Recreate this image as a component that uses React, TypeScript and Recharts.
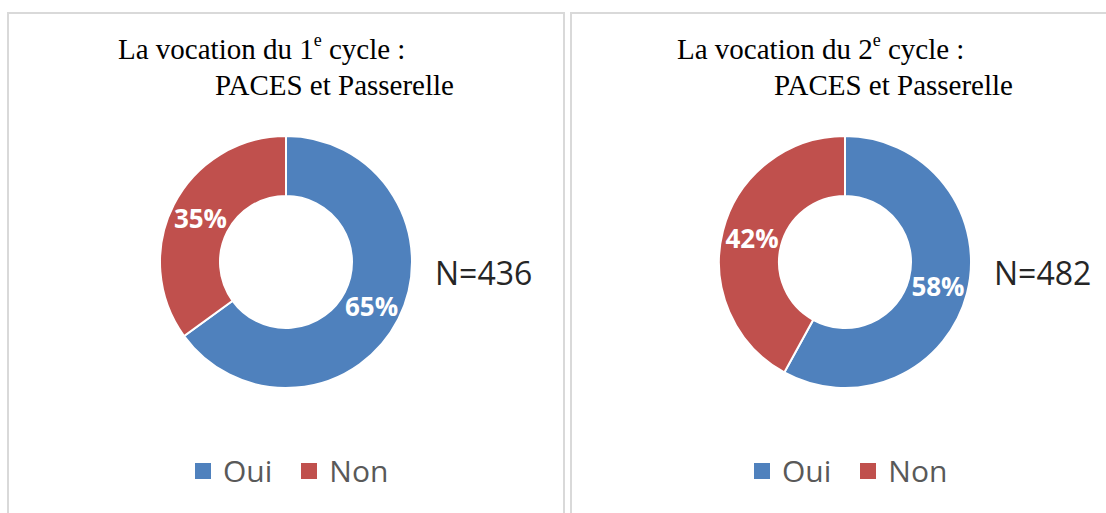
import { PieChart, Pie, Cell, Legend } from "recharts";

const categories = ["Oui", "Non"];
const cycle1Values = [65, 35];
const cycle2Values = [58, 42];
const panelTitles = ["1", "2"];
const sampleSizes = ["N=436", "N=482"];

const COLORS = ["#4f81bd", "#c0504d"];
const RADIAN = Math.PI / 180;

function toData(values: number[]) {
  return categories.map((name, i) => ({ name, value: values[i] }));
}

function renderLabel(props: any) {
  const { cx, cy, midAngle, innerRadius, outerRadius, value } = props;
  const r = (innerRadius + outerRadius) / 2;
  const x = cx + r * Math.cos(-midAngle * RADIAN);
  const y = cy + r * Math.sin(-midAngle * RADIAN);
  return (
    <text
      x={x}
      y={y}
      fill="#ffffff"
      textAnchor="middle"
      dominantBaseline="central"
      style={{ fontFamily: "'Open Sans', sans-serif", fontWeight: 700, fontSize: 26 }}
    >
      {`${value}%`}
    </text>
  );
}

function LegendContent({ payload }: any) {
  // keep the category order (Recharts sorts by name otherwise)
  const items = [...(payload || [])].sort(
    (a: any, b: any) => categories.indexOf(a.value) - categories.indexOf(b.value)
  );
  return (
    <div style={{ display: "flex", alignItems: "center" }}>
      {items.map((item: any, i: number) => (
        <div
          key={item.value}
          style={{ display: "flex", alignItems: "center", marginRight: i === 0 ? 29 : 0 }}
        >
          <span
            style={{ width: 16, height: 16, background: item.color, marginRight: 12, display: "inline-block" }}
          />
          <span
            style={{
              fontFamily: "'Open Sans', sans-serif",
              fontSize: 30,
              lineHeight: "30px",
              color: "#595959",
            }}
          >
            {item.value}
          </span>
        </div>
      ))}
    </div>
  );
}

const titleStyle: React.CSSProperties = {
  position: "absolute",
  fontFamily: "'Liberation Serif', 'Times New Roman', serif",
  fontSize: 29,
  lineHeight: "36px",
  color: "#000",
  whiteSpace: "nowrap",
};

function Panel({
  offset,
  width,
  values,
  cycle,
  n,
}: {
  offset: number;
  width: number;
  values: number[];
  cycle: string;
  n: string;
}) {
  const data = toData(values);
  // second half is the first one moved 559px to the right
  const shift = offset === 0 ? 0 : 559;
  const cx = 286 + shift - offset;
  return (
    <>
      <div style={{ ...titleStyle, left: 118 + shift, top: 31 }}>
        La vocation du {cycle}
        <sup style={{ fontSize: "0.62em", lineHeight: 0, verticalAlign: "0.75em" }}>e</sup> cycle :
      </div>
      <div style={{ ...titleStyle, left: 215 + shift, top: 67 }}>PACES et Passerelle</div>
      <div
        style={{
          position: "absolute",
          left: 435 + shift,
          top: 257,
          fontFamily: "'Open Sans', sans-serif",
          fontSize: 32,
          lineHeight: "32px",
          color: "#262626",
          whiteSpace: "nowrap",
        }}
      >
        {n}
      </div>
      <div style={{ position: "absolute", left: offset, top: 0 }}>
        <PieChart width={width} height={513} margin={{ top: 0, right: 0, bottom: 0, left: 0 }}>
          <Pie
            data={data}
            dataKey="value"
            nameKey="name"
            cx={cx}
            cy={262}
            innerRadius={66}
            outerRadius={126}
            startAngle={90}
            endAngle={-270}
            stroke="#ffffff"
            strokeWidth={2}
            label={renderLabel}
            labelLine={false}
            isAnimationActive={false}
          >
            {data.map((d, i) => (
              <Cell key={d.name} fill={COLORS[i]} />
            ))}
          </Pie>
          <Legend
            verticalAlign="bottom"
            content={<LegendContent />}
            wrapperStyle={{ left: 195 + shift - offset, top: 456, width: "auto", bottom: "auto" }}
          />
        </PieChart>
      </div>
    </>
  );
}

export default function App() {
  return (
    <div
      style={{
        position: "absolute",
        left: 0,
        top: 0,
        width: 1106,
        height: 513,
        background: "#ffffff",
        overflow: "hidden",
      }}
    >
      <div
        style={{
          position: "absolute",
          left: 7,
          top: 12,
          width: 558,
          height: 600,
          border: "2px solid #d9d9d9",
          boxSizing: "border-box",
        }}
      />
      <div
        style={{
          position: "absolute",
          left: 570,
          top: 12,
          width: 600,
          height: 600,
          border: "2px solid #d9d9d9",
          boxSizing: "border-box",
        }}
      />
      <Panel offset={0} width={566} values={cycle1Values} cycle={panelTitles[0]} n={sampleSizes[0]} />
      <Panel offset={566} width={540} values={cycle2Values} cycle={panelTitles[1]} n={sampleSizes[1]} />
    </div>
  );
}
